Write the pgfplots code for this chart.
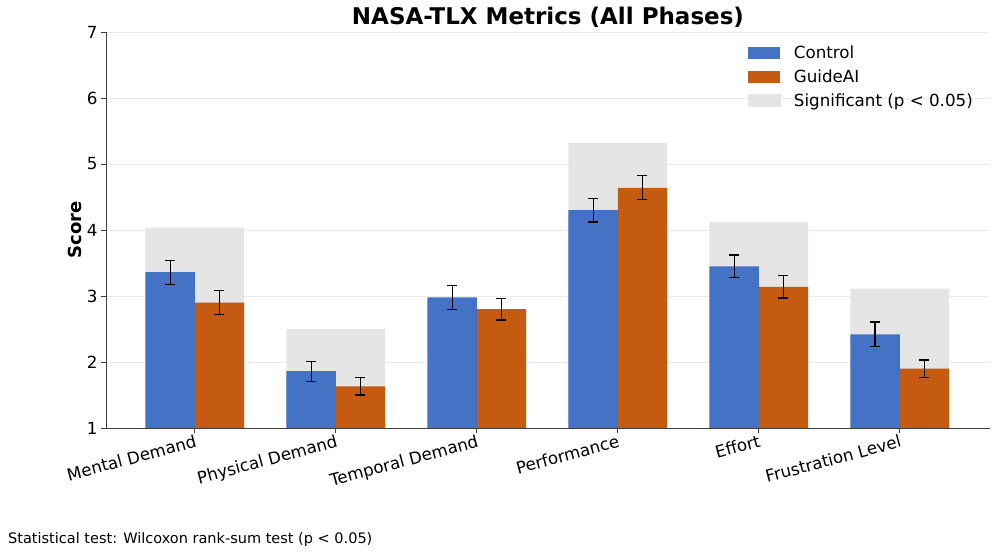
\documentclass[border=0pt]{standalone}
\usepackage{pgfplots}
\pgfplotsset{compat=1.18}
\usepackage{fontspec}
\setmainfont{DejaVu Sans}

\definecolor{ctrlblue}{HTML}{4472C4}
\definecolor{aiorange}{HTML}{C55A11}
\definecolor{siggray}{HTML}{E5E5E5}
\definecolor{gridgray}{HTML}{EBEBEB}

% x  mean  err
\pgfplotstableread{
x y e
0 3.36 0.18
1 1.86 0.15
2 2.98 0.18
3 4.30 0.18
4 3.45 0.17
5 2.42 0.185
}\control
\pgfplotstableread{
x y e
0 2.90 0.18
1 1.63 0.13
2 2.80 0.165
3 4.64 0.18
4 3.14 0.17
5 1.90 0.13
}\guideai

\begin{document}
\begin{tikzpicture}[x=1pt,y=1pt]
\useasboundingbox (-106,-126) rectangle (891,428);
\begin{axis}[
    at={(0,0)}, anchor=south west,
    scale only axis, width=884pt, height=396pt,
    xmin=-0.63, xmax=5.64,
    ymin=1, ymax=7,
    ytick={1,...,7},
    xtick={0,...,5},
    xticklabels={Mental Demand,Physical Demand,Temporal Demand,Performance,Effort,Frustration Level},
    x tick label style={rotate=15, anchor=north east, inner sep=1pt},
    tick label style={font=\fontsize{16.7}{20}\selectfont},
    /pgf/number format/assume math mode=true,
    axis x line*=bottom, axis y line*=left,
    axis line style={-, line width=0.8pt, black!75},
    tick style={line width=0.8pt, black!75},
    tick align=outside, major tick length=5pt,
    ymajorgrids, grid style={gridgray, line width=0.8pt},
    ylabel={\bfseries Score},
    ylabel style={font=\fontsize{18}{21}\selectfont, yshift=-2pt},
    title={\bfseries NASA-TLX Metrics (All Phases)},
    title style={font=\fontsize{23}{27}\selectfont, yshift=-5.5pt},
    legend style={at={(1,1)}, anchor=north east, draw=none, fill=none,
        xshift=-12pt, yshift=-10pt, row sep=5.5pt,
        font=\fontsize{16.7}{20}\selectfont},
    legend cell align=left,
    ybar, bar width=0.35,
    error bars/error bar style={line width=1.2pt, black},
    error bars/error mark options={rotate=90, line width=1.2pt, black, mark size=5pt},
]
% significance shading
\addplot[fill=siggray, draw=none, bar width=0.7, bar shift=0, forget plot]
    coordinates {(0,4.035) (1,2.50) (3,5.32) (4,4.12) (5,3.11)};
\addplot[fill=ctrlblue, draw=none, bar shift=-0.175,
    legend image code/.code={\fill[ctrlblue] (0pt,-6pt) rectangle (32pt,6pt); \path (44pt,0);},
    error bars/.cd, y dir=both, y explicit]
    table[x=x, y=y, y error=e] {\control};
\addlegendentry{Control}
\addplot[fill=aiorange, draw=none, bar shift=0.175,
    legend image code/.code={\fill[aiorange] (0pt,-6pt) rectangle (32pt,6pt); \path (44pt,0);},
    error bars/.cd, y dir=both, y explicit]
    table[x=x, y=y, y error=e] {\guideai};
\addlegendentry{GuideAI}
\addlegendimage{legend image code/.code={\fill[siggray] (0pt,-6pt) rectangle (32pt,6pt); \path (44pt,0);}}
\addlegendentry{Significant (p < 0.05)}
\end{axis}
\node[anchor=base west, font=\fontsize{14.5}{17}\selectfont, inner sep=0pt]
    at (-98,-116) {Statistical test: Wilcoxon rank-sum test (p < 0.05)};
\end{tikzpicture}
\end{document}
